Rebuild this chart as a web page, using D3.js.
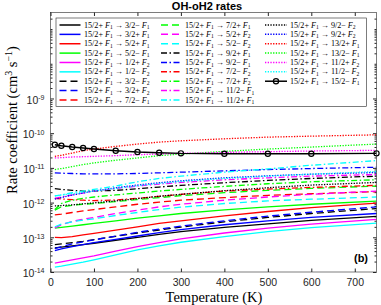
<!DOCTYPE html>
<html>
<head>
<meta charset="utf-8">
<script src="https://cdn.jsdelivr.net/npm/d3@7"></script>
<style>
  body { margin: 0; background: #fff; }
  svg { display: block; }
  .tick text { font-family: "Liberation Sans", Arial, sans-serif; font-size: 10.5px; fill: #262626; }
</style>
</head>
<body>
<div id="chart"></div>
<script>
// temperatures (K)
const temps = [10, 25, 50, 75, 100, 150, 200, 250, 300, 400, 500, 600, 750];

// rate coefficients (cm^3 s^-1) out of 15/2+ F1
const to32mF1 = [4.96e-14, 5.18e-14, 5.66e-14, 6.17e-14, 6.74e-14, 8.21e-14, 1.0e-13, 1.22e-13, 1.45e-13, 1.93e-13, 2.45e-13, 3.06e-13, 3.98e-13];
const to32pF1 = [4.16e-14, 4.64e-14, 5.41e-14, 6.17e-14, 7.04e-14, 8.77e-14, 1.09e-13, 1.36e-13, 1.66e-13, 2.30e-13, 2.99e-13, 3.73e-13, 4.85e-13];
const to52pF1 = [1.0e-13, 9.78e-14, 1.045e-13, 1.17e-13, 1.30e-13, 1.62e-13, 2.01e-13, 2.51e-13, 2.99e-13, 4.16e-13, 5.53e-13, 7.20e-13, 9.61e-13];
const to52mF1 = [1.85e-13, 1.93e-13, 2.10e-13, 2.30e-13, 2.51e-13, 2.99e-13, 3.57e-13, 4.16e-13, 4.85e-13, 6.18e-13, 7.52e-13, 8.96e-13, 1.10e-12];
const to12pF2 = [1.80e-14, 1.97e-14, 2.25e-14, 2.56e-14, 2.93e-14, 3.98e-14, 5.41e-14, 7.04e-14, 8.96e-14, 1.33e-13, 1.85e-13, 2.40e-13, 3.27e-13];
const to12mF2 = [1.39e-14, 1.48e-14, 1.69e-14, 1.93e-14, 2.25e-14, 3.13e-14, 4.35e-14, 5.66e-14, 7.20e-14, 1.045e-13, 1.45e-13, 1.89e-13, 2.56e-13];
const to32mF2 = [6.17e-14, 6.45e-14, 7.04e-14, 7.68e-14, 8.58e-14, 1.07e-13, 1.33e-13, 1.62e-13, 1.97e-13, 2.80e-13, 3.73e-13, 4.85e-13, 6.74e-13];
const to32pF2 = [4.74e-14, 5.41e-14, 6.45e-14, 7.36e-14, 8.39e-14, 1.09e-13, 1.39e-13, 1.73e-13, 2.10e-13, 2.99e-13, 4.07e-13, 5.29e-13, 7.52e-13];
const to72mF1 = [4.44e-13, 4.64e-13, 5.18e-13, 5.78e-13, 6.31e-13, 7.52e-13, 8.96e-13, 1.03e-12, 1.17e-12, 1.39e-12, 1.62e-12, 1.80e-12, 2.06e-12];
const to72pF1 = [6.04e-13, 7.52e-13, 8.39e-13, 8.96e-13, 9.40e-13, 1.07e-12, 1.22e-12, 1.39e-12, 1.58e-12, 1.93e-12, 2.25e-12, 2.56e-12, 2.99e-12];
const to52pF2 = [1.85e-13, 2.30e-13, 2.86e-13, 3.34e-13, 3.73e-13, 4.85e-13, 6.04e-13, 7.52e-13, 8.96e-13, 1.17e-12, 1.45e-12, 1.73e-12, 2.15e-12];
const to52mF2 = [2.01e-13, 2.40e-13, 2.80e-13, 3.13e-13, 3.42e-13, 4.25e-13, 5.18e-13, 6.31e-13, 7.36e-13, 9.40e-13, 1.12e-12, 1.25e-12, 1.45e-12];
const to92pF1 = [2.51e-12, 2.40e-12, 2.25e-12, 2.15e-12, 2.15e-12, 2.25e-12, 2.51e-12, 2.80e-12, 3.13e-12, 3.73e-12, 4.35e-12, 4.96e-12, 5.78e-12];
const to92mF1 = [7.20e-12, 7.04e-12, 6.89e-12, 6.74e-12, 6.74e-12, 6.74e-12, 6.89e-12, 7.20e-12, 7.52e-12, 8.21e-12, 8.96e-12, 9.57e-12, 1.045e-11];
const to72mF2 = [1.33e-12, 1.27e-12, 1.22e-12, 1.17e-12, 1.14e-12, 1.19e-12, 1.33e-12, 1.52e-12, 1.73e-12, 2.15e-12, 2.45e-12, 2.74e-12, 3.13e-12];
const to72pF2 = [6.31e-13, 9.40e-13, 1.17e-12, 1.33e-12, 1.45e-12, 1.66e-12, 1.89e-12, 2.15e-12, 2.40e-12, 2.93e-12, 3.49e-12, 3.98e-12, 4.54e-12];
const to112mF1 = [1.33e-12, 1.45e-12, 1.66e-12, 1.89e-12, 2.15e-12, 2.56e-12, 2.99e-12, 3.42e-12, 3.81e-12, 4.54e-12, 5.18e-12, 5.78e-12, 6.45e-12];
const to112pF1 = [1.55e-12, 1.66e-12, 1.93e-12, 2.15e-12, 2.40e-12, 2.99e-12, 3.98e-12, 4.96e-12, 5.78e-12, 7.52e-12, 9.36e-12, 1.19e-11, 1.62e-11];
const to92mF2 = [8.03e-13, 8.21e-13, 8.58e-13, 9.20e-13, 9.82e-13, 1.12e-12, 1.30e-12, 1.52e-12, 1.73e-12, 2.20e-12, 2.68e-12, 3.20e-12, 3.81e-12];
const to92pF2 = [1.25e-12, 1.39e-12, 1.66e-12, 1.89e-12, 2.15e-12, 2.68e-12, 3.20e-12, 3.73e-12, 4.25e-12, 5.18e-12, 5.91e-12, 6.59e-12, 7.36e-12];
const to132pF1 = [2.15e-11, 2.30e-11, 2.68e-11, 3.13e-11, 3.49e-11, 4.16e-11, 4.85e-11, 5.53e-11, 6.04e-11, 6.89e-11, 7.69e-11, 8.21e-11, 8.96e-11];
const to132mF1 = [8.96e-12, 9.57e-12, 1.09e-11, 1.245e-11, 1.39e-11, 1.66e-11, 1.93e-11, 2.25e-11, 2.51e-11, 2.99e-11, 3.49e-11, 3.98e-11, 4.85e-11];
const to112pF2 = [1.93e-11, 1.97e-11, 2.06e-11, 2.10e-11, 2.15e-11, 2.25e-11, 2.40e-11, 2.51e-11, 2.62e-11, 2.80e-11, 2.93e-11, 3.06e-11, 3.20e-11];
const to112mF2 = [1.55e-12, 1.66e-12, 1.80e-12, 1.97e-12, 2.15e-12, 2.56e-12, 3.06e-12, 3.57e-12, 4.07e-12, 4.96e-12, 5.78e-12, 6.59e-12, 7.86e-12];
const to152mF1 = [4.64e-11, 4.34e-11, 3.98e-11, 3.73e-11, 3.49e-11, 3.13e-11, 2.86e-11, 2.74e-11, 2.62e-11, 2.56e-11, 2.56e-11, 2.56e-11, 2.62e-11];

const rateSeries = [to32mF1, to32pF1, to52pF1, to52mF1, to12pF2, to12mF2, to32mF2, to32pF2, to72mF1,
  to72pF1, to52pF2, to52mF2, to92pF1, to92mF1, to72mF2, to72pF2, to112mF1, to112pF1,
  to92mF2, to92pF2, to132pF1, to132mF1, to112pF2, to112mF2, to152mF1];

// final levels, legend order
const finalLevels = ['3/2\u2212', '3/2+', '5/2+', '5/2\u2212', '1/2+', '1/2\u2212', '3/2\u2212', '3/2+', '7/2\u2212',
  '7/2+', '5/2+', '5/2\u2212', '9/2+', '9/2\u2212', '7/2\u2212', '7/2+', '11/2\u2212', '11/2+',
  '9/2\u2212', '9/2+', '13/2+', '13/2\u2212', '11/2+', '11/2\u2212', '15/2\u2212'];
const finalF = [1, 1, 1, 1, 2, 2, 2, 2, 1, 1, 2, 2, 1, 1, 2, 2, 1, 1, 2, 2, 1, 1, 2, 2, 1];

const xTicks = [0, 100, 200, 300, 400, 500, 600, 700];
const yTicks = [1e-14, 1e-13, 1e-12, 1e-11, 1e-10, 1e-9];

// styles (matlab line cycle)
const colorCycle = ['#000000', '#0000ff', '#ff0000', '#00ff00', '#ff00ff', '#00ffff'];
const dashCycle = [null, '7,4', '6,2.5,1.5,2.5', '1.3,1.4'];

const W = 381, H = 305;
const plot = { left: 50.5, right: 376.5, top: 12.5, bottom: 272 };

const svg = d3.select('#chart').append('svg')
    .attr('width', W)
    .attr('height', H);

const x = d3.scaleLinear().domain([0, 750]).range([plot.left, plot.right]);
const y = d3.scaleLog().domain([1e-14, 3e-7]).range([plot.bottom, plot.top]);

svg.append('clipPath').attr('id', 'clip')
  .append('rect')
    .attr('x', plot.left).attr('y', plot.top)
    .attr('width', plot.right - plot.left).attr('height', plot.bottom - plot.top);

// minor log ticks
const yMinor = [];
for (let e = -14; e <= -7; e++) {
  for (let m = 2; m <= 9; m++) {
    const v = m * Math.pow(10, e);
    if (v < 3e-7) yMinor.push(v);
  }
}
yMinor.push(1e-8, 1e-7);

const axisColor = '#262626';

// bottom axis
svg.append('g')
    .attr('transform', `translate(0,${plot.bottom})`)
    .attr('color', axisColor)
    .call(d3.axisBottom(x).tickValues(xTicks).tickSizeInner(-3.5).tickSizeOuter(0).tickPadding(6.5))
    .call(g => g.select('.domain').remove());

// top axis ticks
svg.append('g')
    .attr('transform', `translate(0,${plot.top})`)
    .attr('color', axisColor)
    .call(d3.axisTop(x).tickValues(xTicks).tickSizeInner(-3.5).tickSizeOuter(0).tickFormat(''))
    .call(g => g.select('.domain').remove());

// left axis
svg.append('g')
    .attr('transform', `translate(${plot.left},0)`)
    .attr('color', axisColor)
    .call(d3.axisLeft(y).tickValues(yTicks).tickSizeInner(-3.5).tickSizeOuter(0).tickPadding(6).tickFormat(''))
    .call(g => g.select('.domain').remove())
    .selectAll('.tick text')
    .attr('dy', '0.45em')
    .each(function (d) {
      const t = d3.select(this);
      t.append('tspan').text('10');
      t.append('tspan').attr('dy', '-0.55em').attr('font-size', '7px').text(String(Math.round(Math.log10(d))));
    });

svg.append('g')
    .attr('transform', `translate(${plot.left},0)`)
    .attr('color', axisColor)
    .call(d3.axisLeft(y).tickValues(yMinor).tickSizeInner(-2).tickSizeOuter(0).tickFormat(''))
    .call(g => g.select('.domain').remove());

// right axis ticks
svg.append('g')
    .attr('transform', `translate(${plot.right},0)`)
    .attr('color', axisColor)
    .call(d3.axisRight(y).tickValues(yTicks).tickSizeInner(-3.5).tickSizeOuter(0).tickFormat(''))
    .call(g => g.select('.domain').remove());

svg.append('g')
    .attr('transform', `translate(${plot.right},0)`)
    .attr('color', axisColor)
    .call(d3.axisRight(y).tickValues(yMinor).tickSizeInner(-2).tickSizeOuter(0).tickFormat(''))
    .call(g => g.select('.domain').remove());

// curves
const line = d3.line()
    .x(d => x(d[0]))
    .y(d => y(d[1]));

const curves = svg.append('g').attr('clip-path', 'url(#clip)');

rateSeries.forEach((vals, i) => {
  const pts = temps.map((t, j) => [t, vals[j]]);
  const dash = i === 24 ? null : dashCycle[Math.floor(i / 6)];
  curves.append('path')
      .datum(pts)
      .attr('fill', 'none')
      .attr('stroke', colorCycle[i % 6])
      .attr('stroke-width', i === 24 ? 1.4 : 1.3)
      .attr('stroke-dasharray', dash)
      .attr('d', line);
});

// markers of the 15/2- F1 curve
svg.append('g')
  .selectAll('circle')
  .data(temps.map((t, j) => [t, to152mF1[j]]))
  .join('circle')
    .attr('cx', d => x(d[0]))
    .attr('cy', d => y(d[1]))
    .attr('r', 2.6)
    .attr('fill', 'none')
    .attr('stroke', '#000')
    .attr('stroke-width', 1.2);

// box
svg.append('rect')
    .attr('x', plot.left).attr('y', plot.top)
    .attr('width', plot.right - plot.left).attr('height', plot.bottom - plot.top)
    .attr('fill', 'none')
    .attr('stroke', axisColor)
    .attr('stroke-width', 0.6);

// legend
const legend = svg.append('g');
legend.append('rect')
    .attr('x', 56).attr('y', 18)
    .attr('width', 310.5).attr('height', 88.5)
    .attr('fill', '#fff')
    .attr('stroke', axisColor)
    .attr('stroke-width', 0.6);

const colLine = [[59.5, 80.5], [161, 182], [265, 287]];
const colText = [84, 185, 290];

rateSeries.forEach((vals, i) => {
  const col = Math.floor(i / 9), row = i % 9;
  const ly = 25 + row * 9.37;
  const dash = i === 24 ? null : dashCycle[Math.floor(i / 6)];
  legend.append('line')
      .attr('x1', colLine[col][0]).attr('x2', colLine[col][1])
      .attr('y1', ly).attr('y2', ly)
      .attr('stroke', colorCycle[i % 6])
      .attr('stroke-width', 1.5)
      .attr('stroke-dasharray', dash);
  if (i === 24) {
    legend.append('circle')
        .attr('cx', (colLine[col][0] + colLine[col][1]) / 2).attr('cy', ly)
        .attr('r', 2.6).attr('fill', 'none').attr('stroke', '#000').attr('stroke-width', 1.2);
  }
  const t = legend.append('text')
      .attr('x', colText[col]).attr('y', ly + 2.6)
      .attr('font-family', '"Liberation Serif", "Times New Roman", serif')
      .attr('font-size', '8.1px')
      .attr('fill', '#000');
  t.append('tspan').text('15/2+ ');
  t.append('tspan').attr('font-style', 'italic').text('F');
  t.append('tspan').attr('font-size', '5.6px').attr('dy', 1.5).text('1');
  t.append('tspan').attr('dy', -1.5).text(' \u2192 ' + finalLevels[i] + ' ');
  t.append('tspan').attr('font-style', 'italic').text('F');
  t.append('tspan').attr('font-size', '5.6px').attr('dy', 1.5).text(finalF[i]);
});

// titles
svg.append('text')
    .attr('x', 207).attr('y', 9.5)
    .attr('text-anchor', 'middle')
    .attr('font-family', '"Liberation Sans", Arial, sans-serif')
    .attr('font-weight', 'bold')
    .attr('font-size', '11px')
    .attr('fill', '#000')
    .text('OH-oH2 rates');

svg.append('text')
    .attr('x', 214).attr('y', 301.5)
    .attr('text-anchor', 'middle')
    .attr('font-family', '"Liberation Serif", "Times New Roman", serif')
    .attr('font-size', '14.5px')
    .attr('fill', '#000')
    .text('Temperature (K)');

const yTitle = svg.append('text')
    .attr('transform', 'translate(17,120) rotate(-90)')
    .attr('text-anchor', 'middle')
    .attr('font-family', '"Liberation Serif", "Times New Roman", serif')
    .attr('font-size', '14.5px')
    .attr('fill', '#000');
yTitle.append('tspan').text('Rate coefficient (cm');
yTitle.append('tspan').attr('font-size', '10px').attr('dy', -5.5).text('3');
yTitle.append('tspan').attr('dy', 5.5).text(' s');
yTitle.append('tspan').attr('font-size', '10px').attr('dy', -5.5).text('\u22121');
yTitle.append('tspan').attr('dy', 5.5).text(')');

svg.append('text')
    .attr('x', 361).attr('y', 262)
    .attr('text-anchor', 'middle')
    .attr('font-family', '"Liberation Sans", Arial, sans-serif')
    .attr('font-weight', 'bold')
    .attr('font-size', '11px')
    .attr('fill', '#000')
    .text('(b)');
</script>
</body>
</html>
